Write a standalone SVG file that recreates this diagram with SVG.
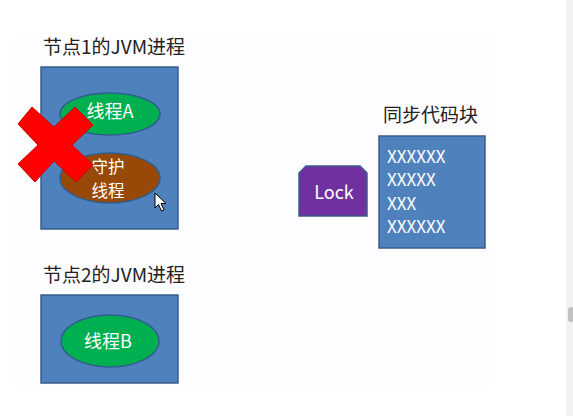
<svg xmlns="http://www.w3.org/2000/svg" width="573" height="416" viewBox="0 0 573 416">
<style>
.t{font-family:"Noto Sans CJK SC","Liberation Sans",sans-serif;}
.title{font-size:19px;fill:#222;}
.box{fill:#4f81bd;stroke:#385d8a;stroke-width:1.5;}
.w{fill:#fff;font-size:18px;}
.d{fill:#fff;font-size:16.5px;}
.code{fill:#fff;font-size:17px;}
</style>
<rect width="573" height="416" fill="#fff"/>
<rect x="15" y="35" width="475" height="350" fill="#fdfcfe"/>
<rect x="566" y="0" width="7" height="416" fill="#f1f1f1"/>
<rect x="568" y="307" width="6" height="15" rx="3" fill="#c1c1c1"/>

<g id="node1">
<text class="t title" x="43" y="54">节点1的JVM进程</text>
<rect class="box" x="41" y="67" width="137" height="162"/>
</g>
<g id="threadA">
<ellipse cx="110" cy="114" rx="50" ry="21" fill="#00b050" stroke="#2f5f8f" stroke-width="1.5"/>
<text class="t w" x="110" y="118" text-anchor="middle">线程A</text>
</g>
<g id="daemon">
<ellipse cx="110" cy="178" rx="50" ry="25" fill="#984807" stroke="#2f5f8f" stroke-width="1.5"/>
<text class="t d" x="108" y="173" text-anchor="middle">守护</text>
<text class="t d" x="108" y="197" text-anchor="middle">线程</text>
</g>
<g id="cross">
<polygon points="32,107 54,127 75,107 93,125 72,145 93,165 76,182 54,161 35,182 18,164 38,145 18,124" fill="#ff0000" stroke="#d00000" stroke-width="1"/>
</g>
<g id="cursor">
<polygon points="155,193 155,208 158.5,204.5 161.5,211 164,210 161,203.5 166,203.5" fill="#fff" stroke="#000" stroke-width="1"/>
</g>

<g id="lock">
<polygon points="306,166 360,166 367,173 367,216 299,216 299,173" fill="#7030a0" stroke="#385d8a" stroke-width="1.5"/>
<text class="t w" x="334" y="199" text-anchor="middle">Lock</text>
</g>

<g id="syncblock">
<text class="t title" x="383" y="122">同步代码块</text>
<rect class="box" x="379" y="136" width="106" height="112"/>
<text class="t code" x="387" y="163">XXXXXX</text>
<text class="t code" x="387" y="186">XXXXX</text>
<text class="t code" x="387" y="210">XXX</text>
<text class="t code" x="387" y="233">XXXXXX</text>
</g>

<g id="node2">
<text class="t title" x="43" y="282">节点2的JVM进程</text>
<rect class="box" x="41" y="295" width="137" height="88"/>
</g>
<g id="threadB">
<ellipse cx="110" cy="341" rx="49" ry="26" fill="#00b050" stroke="#2f5f8f" stroke-width="1.5"/>
<text class="t w" x="108" y="348" text-anchor="middle">线程B</text>
</g>

<g id="connectors"></g>
</svg>
